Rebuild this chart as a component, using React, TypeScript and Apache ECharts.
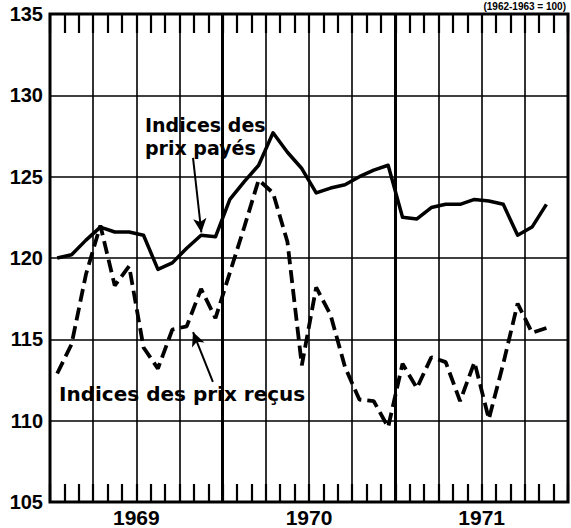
import React, { useEffect, useRef } from 'react';
import * as echarts from 'echarts';

// Monthly values, January 1969 to November 1971 (index base 1962-1963 = 100)
const years = ['1969', '1970', '1971'];
const prixPayes = [
  120.0, 120.2, 121.1, 121.9, 121.6, 121.6, 121.4, 119.3, 119.7, 120.6, 121.4, 121.3,
  123.6, 124.7, 125.7, 127.7, 126.5, 125.5, 124.0, 124.3, 124.5, 125.0, 125.4, 125.7,
  122.5, 122.4, 123.1, 123.3, 123.3, 123.6, 123.5, 123.3, 121.4, 121.9, 123.3,
];
const prixRecus = [
  112.9, 114.7, 119.0, 122.0, 118.3, 119.5, 114.5, 113.2, 115.6, 115.8, 118.1, 116.3,
  119.1, 121.9, 124.8, 124.0, 121.0, 113.4, 118.2, 116.5, 113.3, 111.3, 111.2, 109.6,
  113.5, 112.0, 113.9, 113.6, 111.2, 113.6, 110.1, 113.5, 117.2, 115.4, 115.7,
];
const yearBoundaries = [12, 24];
const labelPayes = 'Indices des\nprix payés';
const labelRecus = 'Indices des prix reçus';
const baseText = '(1962-1963 = 100)';
// annotation arrows in data coordinates: [month, index]
const arrowPayes = [[9.94, 126.16], [10.52, 121.57]];
const arrowRecus = [[11.32, 112.39], [9.94, 115.45]];

export default function App() {
  const ref = useRef<HTMLDivElement>(null);
  useEffect(() => {
    document.body.style.margin = '0';
    const chart = echarts.init(ref.current!, null, { renderer: 'svg' });
    const toPts = (arr: number[]) => arr.map((v, i) => [i + 0.5, v]);
    const tickStyle = { color: '#000', width: 2.2 };
    const xBase: any = {
      type: 'value',
      min: 0,
      max: 36,
      interval: 3,
      axisLine: { show: false },
      splitLine: { show: false },
    };
    chart.setOption({
      animation: false,
      grid: {
        left: 50, right: 2, top: 14, bottom: 24,
        show: true, borderColor: '#000', borderWidth: 3, backgroundColor: '#fff',
      },
      xAxis: [
        {
          ...xBase,
          position: 'bottom',
          axisTick: { show: true, inside: true, length: 18, lineStyle: tickStyle },
          minorTick: { show: true, splitNumber: 3, length: 18, lineStyle: tickStyle },
          splitLine: { show: true, lineStyle: { color: '#000', width: 1.6 } },
          axisLabel: {
            show: true,
            formatter: (v: number) => (v % 12 === 6 ? years[(v - 6) / 12] : ''),
            fontSize: 21,
            fontWeight: 'bold',
            color: '#000',
            fontFamily: 'Liberation Sans',
            margin: 5,
          },
        },
        {
          ...xBase,
          position: 'top',
          axisTick: { show: true, inside: true, length: 19, lineStyle: tickStyle },
          minorTick: { show: true, splitNumber: 3, length: 19, lineStyle: tickStyle },
          axisLabel: { show: false },
        },
      ],
      yAxis: {
        type: 'value',
        min: 105,
        max: 135,
        interval: 5,
        axisLine: { show: false },
        axisTick: { show: false },
        splitLine: { show: true, lineStyle: { color: '#000', width: 1.6 } },
        axisLabel: {
          fontSize: 20,
          fontWeight: 'bold',
          color: '#000',
          fontFamily: 'Liberation Sans',
          margin: 7,
        },
      },
      series: [
        {
          name: 'Indices des prix payés',
          type: 'line',
          xAxisIndex: 0,
          data: toPts(prixPayes),
          symbol: 'none',
          lineStyle: { color: '#000', width: 3.5, type: 'solid', join: 'round' },
          z: 5,
          markLine: {
            silent: true,
            symbol: 'none',
            label: { show: false },
            lineStyle: { color: '#000', width: 3, type: 'solid' },
            data: yearBoundaries.map((x) => ({ xAxis: x })),
          },
        },
        {
          name: 'Indices des prix reçus',
          type: 'line',
          xAxisIndex: 0,
          data: toPts(prixRecus),
          symbol: 'none',
          lineStyle: { color: '#000', width: 3.8, type: [13, 6] },
          z: 5,
          markLine: {
            silent: true,
            symbol: ['none', 'arrow'],
            symbolSize: [10, 14],
            label: { show: false },
            lineStyle: { color: '#000', width: 2, type: 'solid' },
            data: [
              [{ coord: arrowPayes[0] }, { coord: arrowPayes[1] }],
              [{ coord: arrowRecus[0] }, { coord: arrowRecus[1] }],
            ],
          },
        },
      ],
      graphic: [
        {
          type: 'text',
          x: 145,
          y: 136,
          z: 10,
          style: {
            text: labelPayes,
            font: 'bold 19px "DejaVu Sans"',
            fill: '#000',
            lineHeight: 23,
            verticalAlign: 'middle',
            align: 'left',
          },
        },
        {
          type: 'text',
          x: 59,
          y: 394,
          z: 10,
          style: {
            text: labelRecus,
            font: 'bold 20px "DejaVu Sans"',
            fill: '#000',
            verticalAlign: 'middle',
            align: 'left',
          },
        },
        {
          type: 'text',
          x: 566,
          y: 1,
          z: 10,
          style: {
            text: baseText,
            font: 'bold 10px "Liberation Sans"',
            fill: '#000',
            verticalAlign: 'top',
            align: 'right',
          },
        },
      ],
    });
    return () => chart.dispose();
  }, []);
  return <div ref={ref} style={{ width: 571, height: 528 }} />;
}
